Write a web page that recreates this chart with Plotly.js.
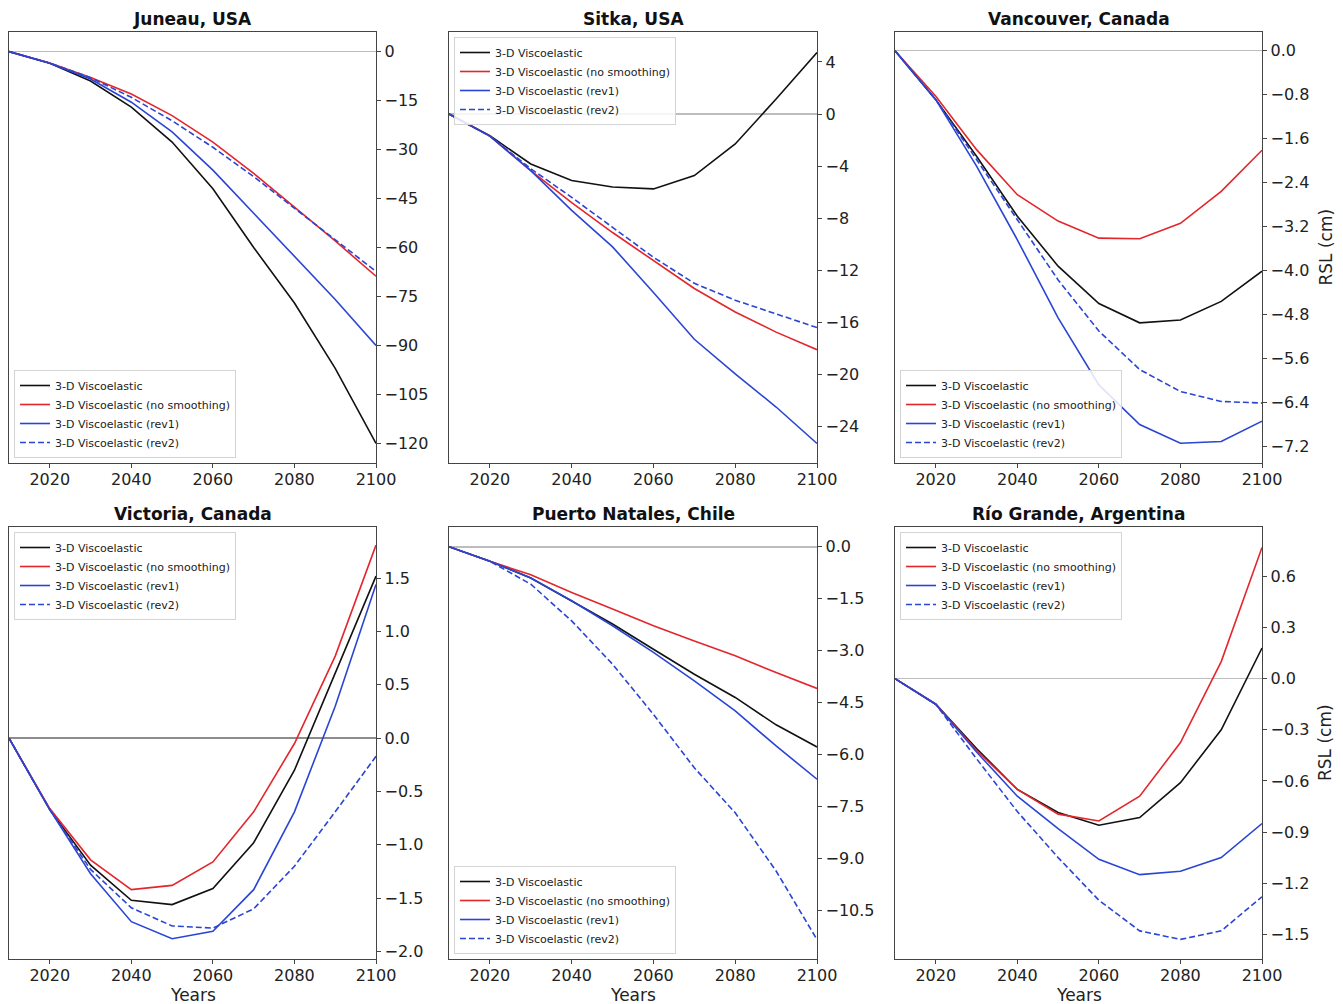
<!DOCTYPE html>
<html>
<head>
<meta charset="utf-8">
<script src="https://cdn.plot.ly/plotly-3.0.1.min.js"></script>
<style>
  html, body { margin: 0; padding: 0; background: #ffffff; }
  #chart { width: 1343px; height: 1004px; }
</style>
</head>
<body>
<div id="chart"></div>
<script>
// ---------------- DATA ----------------
const years = [2010, 2020, 2030, 2040, 2050, 2060, 2070, 2080, 2090, 2100];

const seriesNames = [
  "3-D Viscoelastic",
  "3-D Viscoelastic (no smoothing)",
  "3-D Viscoelastic (rev1)",
  "3-D Viscoelastic (rev2)"
];

const siteTitles = [
  "Juneau, USA", "Sitka, USA", "Vancouver, Canada",
  "Victoria, Canada", "Puerto Natales, Chile", "Río Grande, Argentina"
];

// Juneau, USA
const juneauBase      = [0, -3.6, -9.0, -17.0, -27.7, -42.0, -60.0, -77.0, -97.0, -120.0];
const juneauNoSmooth  = [0, -3.5, -7.9, -13.0, -19.6, -27.7, -37.3, -47.5, -58.0, -68.8];
const juneauRev1      = [0, -3.6, -8.4, -15.5, -24.6, -36.3, -49.5, -62.7, -75.9, -90.0];
const juneauRev2      = [0, -3.5, -8.0, -14.0, -21.2, -29.3, -38.3, -48.0, -57.6, -67.3];

// Sitka, USA
const sitkaBase       = [0, -1.66, -3.84, -5.1, -5.6, -5.75, -4.73, -2.3, 1.15, 4.73];
const sitkaNoSmooth   = [0, -1.7, -4.35, -6.8, -9.1, -11.25, -13.4, -15.2, -16.75, -18.1];
const sitkaRev1       = [0, -1.7, -4.35, -7.4, -10.2, -13.7, -17.3, -19.95, -22.5, -25.3];
const sitkaRev2       = [0, -1.7, -4.2, -6.4, -8.7, -11.0, -13.0, -14.3, -15.35, -16.4];

// Vancouver, Canada
const vancouverBase      = [0, -0.89, -1.92, -3.01, -3.92, -4.6, -4.95, -4.9, -4.56, -4.01];
const vancouverNoSmooth  = [0, -0.83, -1.8, -2.62, -3.1, -3.41, -3.42, -3.14, -2.56, -1.81];
const vancouverRev1      = [0, -0.89, -2.1, -3.44, -4.86, -6.08, -6.8, -7.14, -7.11, -6.74];
const vancouverRev2      = [0, -0.89, -1.98, -3.07, -4.17, -5.1, -5.8, -6.2, -6.38, -6.41];

// Victoria, Canada
const victoriaBase      = [0, -0.67, -1.19, -1.52, -1.56, -1.41, -0.98, -0.3, 0.61, 1.52];
const victoriaNoSmooth  = [0, -0.66, -1.14, -1.42, -1.38, -1.16, -0.69, -0.05, 0.77, 1.81];
const victoriaRev1      = [0, -0.67, -1.27, -1.72, -1.88, -1.81, -1.42, -0.69, 0.3, 1.44];
const victoriaRev2      = [0, -0.67, -1.23, -1.59, -1.76, -1.78, -1.6, -1.2, -0.69, -0.17];

// Puerto Natales, Chile
const natalesBase      = [0, -0.42, -0.9, -1.56, -2.23, -2.96, -3.68, -4.35, -5.14, -5.78];
const natalesNoSmooth  = [0, -0.42, -0.81, -1.32, -1.8, -2.28, -2.72, -3.15, -3.63, -4.09];
const natalesRev1      = [0, -0.42, -0.9, -1.56, -2.28, -3.05, -3.87, -4.74, -5.75, -6.71];
const natalesRev2      = [0, -0.42, -1.08, -2.14, -3.39, -4.84, -6.38, -7.68, -9.36, -11.34];

// Río Grande, Argentina
const rioBase      = [0, -0.15, -0.41, -0.65, -0.785, -0.86, -0.815, -0.61, -0.3, 0.18];
const rioNoSmooth  = [0, -0.15, -0.42, -0.65, -0.795, -0.835, -0.69, -0.375, 0.1, 0.77];
const rioRev1      = [0, -0.15, -0.43, -0.69, -0.88, -1.06, -1.15, -1.13, -1.05, -0.85];
const rioRev2      = [0, -0.15, -0.47, -0.78, -1.05, -1.3, -1.48, -1.53, -1.48, -1.28];

// Axis settings per panel
const yRanges = [[-126, 6], [-26.8, 6.3], [-7.5, 0.34], [-2.07, 1.98], [-11.9, 0.57], [-1.645, 0.89]];
const yDticks = [15, 4, 0.8, 0.5, 1.5, 0.3];
const yFormats = ["d", "d", ".1f", ".1f", ".1f", ".1f"];
const legendTop = [false, true, false, true, false, true];

// ---------------- BUILD ----------------
const panelData = [
  [juneauBase, juneauNoSmooth, juneauRev1, juneauRev2],
  [sitkaBase, sitkaNoSmooth, sitkaRev1, sitkaRev2],
  [vancouverBase, vancouverNoSmooth, vancouverRev1, vancouverRev2],
  [victoriaBase, victoriaNoSmooth, victoriaRev1, victoriaRev2],
  [natalesBase, natalesNoSmooth, natalesRev1, natalesRev2],
  [rioBase, rioNoSmooth, rioRev1, rioRev2]
];

const W = 1343, H = 1004;
const colPx = [[9, 376], [449, 817], [895, 1262]];
const rowPx = [[32, 463], [527, 959]];
const styles = [
  {color: "#111111", dash: "solid"},
  {color: "#e3262b", dash: "solid"},
  {color: "#2a45d4", dash: "solid"},
  {color: "#2a45d4", dash: "6px,3px"}
];

const FONT = "DejaVu Sans, Liberation Sans, Arial, sans-serif";
const traces = [];
const layout = {
  width: W, height: H,
  margin: {l: 0, r: 0, t: 0, b: 0},
  paper_bgcolor: "#ffffff",
  plot_bgcolor: "#ffffff",
  showlegend: true,
  font: {family: FONT, color: "#222222"},
  annotations: []
};

for (let p = 0; p < 6; p++) {
  const row = Math.floor(p / 3), col = p % 3;
  const sfx = p === 0 ? "" : String(p + 1);
  const legName = "legend" + sfx;
  for (let s = 0; s < 4; s++) {
    traces.push({
      type: "scatter", mode: "lines",
      x: years, y: panelData[p][s],
      name: seriesNames[s],
      xaxis: "x" + sfx, yaxis: "y" + sfx,
      legend: legName,
      line: {color: styles[s].color, dash: styles[s].dash, width: 1.6},
      hoverinfo: "x+y+name"
    });
  }
  const x0 = colPx[col][0] / W, x1 = colPx[col][1] / W;
  const yTop = 1 - rowPx[row][0] / H, yBot = 1 - rowPx[row][1] / H;
  layout["xaxis" + sfx] = {
    domain: [x0, x1], anchor: "y" + sfx,
    range: [2010, 2100], tick0: 2020, dtick: 20,
    showgrid: false, zeroline: false,
    showline: true, mirror: true, linecolor: "#444444", linewidth: 1.3,
    ticks: "outside", ticklen: 4, tickwidth: 1, tickcolor: "#444444",
    ticklabelstandoff: -3,
    tickfont: {family: FONT, size: 16, color: "#222222"}
  };
  layout["yaxis" + sfx] = {
    domain: [yBot, yTop], anchor: "x" + sfx, side: "right",
    range: yRanges[p], tick0: 0, dtick: yDticks[p], tickformat: yFormats[p],
    showgrid: false,
    zeroline: true, zerolinecolor: p === 3 ? "#8c8c8c" : "#bdbdbd", zerolinewidth: 1.5,
    showline: true, mirror: true, linecolor: "#444444", linewidth: 1.3,
    ticks: "outside", ticklen: 4, tickwidth: 1, tickcolor: "#444444",
    tickfont: {family: FONT, size: 16, color: "#222222"}
  };
  // legend box
  const lx = (colPx[col][0] + 5) / W;
  const ly = legendTop[p] ? 1 - (rowPx[row][0] + 5) / H : 1 - (rowPx[row][1] - 5) / H;
  layout[legName] = {
    x: lx, y: ly, xanchor: "left", yanchor: legendTop[p] ? "top" : "bottom",
    bgcolor: "rgba(255,255,255,0.85)", bordercolor: "#d4d4d4", borderwidth: 1,
    font: {family: FONT, size: 11, color: "#222222"},
    tracegroupgap: 0, itemwidth: 30
  };
  // title
  layout.annotations.push({
    text: "<b>" + siteTitles[p] + "</b>",
    xref: "paper", yref: "paper",
    x: (colPx[col][0] + colPx[col][1]) / 2 / W,
    y: 1 - (rowPx[row][0] - 1) / H,
    xanchor: "center", yanchor: "bottom", showarrow: false,
    font: {family: FONT, size: 17, color: "#111111"}
  });
  if (row === 1) {
    layout.annotations.push({
      text: "Years", xref: "paper", yref: "paper",
      x: (colPx[col][0] + colPx[col][1]) / 2 / W, y: 1 - 983 / H,
      xanchor: "center", yanchor: "top", showarrow: false,
      font: {family: FONT, size: 17, color: "#222222"}
    });
  }
  if (col === 2) {
    layout.annotations.push({
      text: "RSL (cm)", xref: "paper", yref: "paper",
      x: 1325 / W, y: 1 - (rowPx[row][0] + rowPx[row][1]) / 2 / H,
      xanchor: "center", yanchor: "middle", showarrow: false, textangle: -90,
      font: {family: FONT, size: 17, color: "#222222"}
    });
  }
}

Plotly.newPlot("chart", traces, layout, {displayModeBar: false, staticPlot: true});
</script>
</body>
</html>
